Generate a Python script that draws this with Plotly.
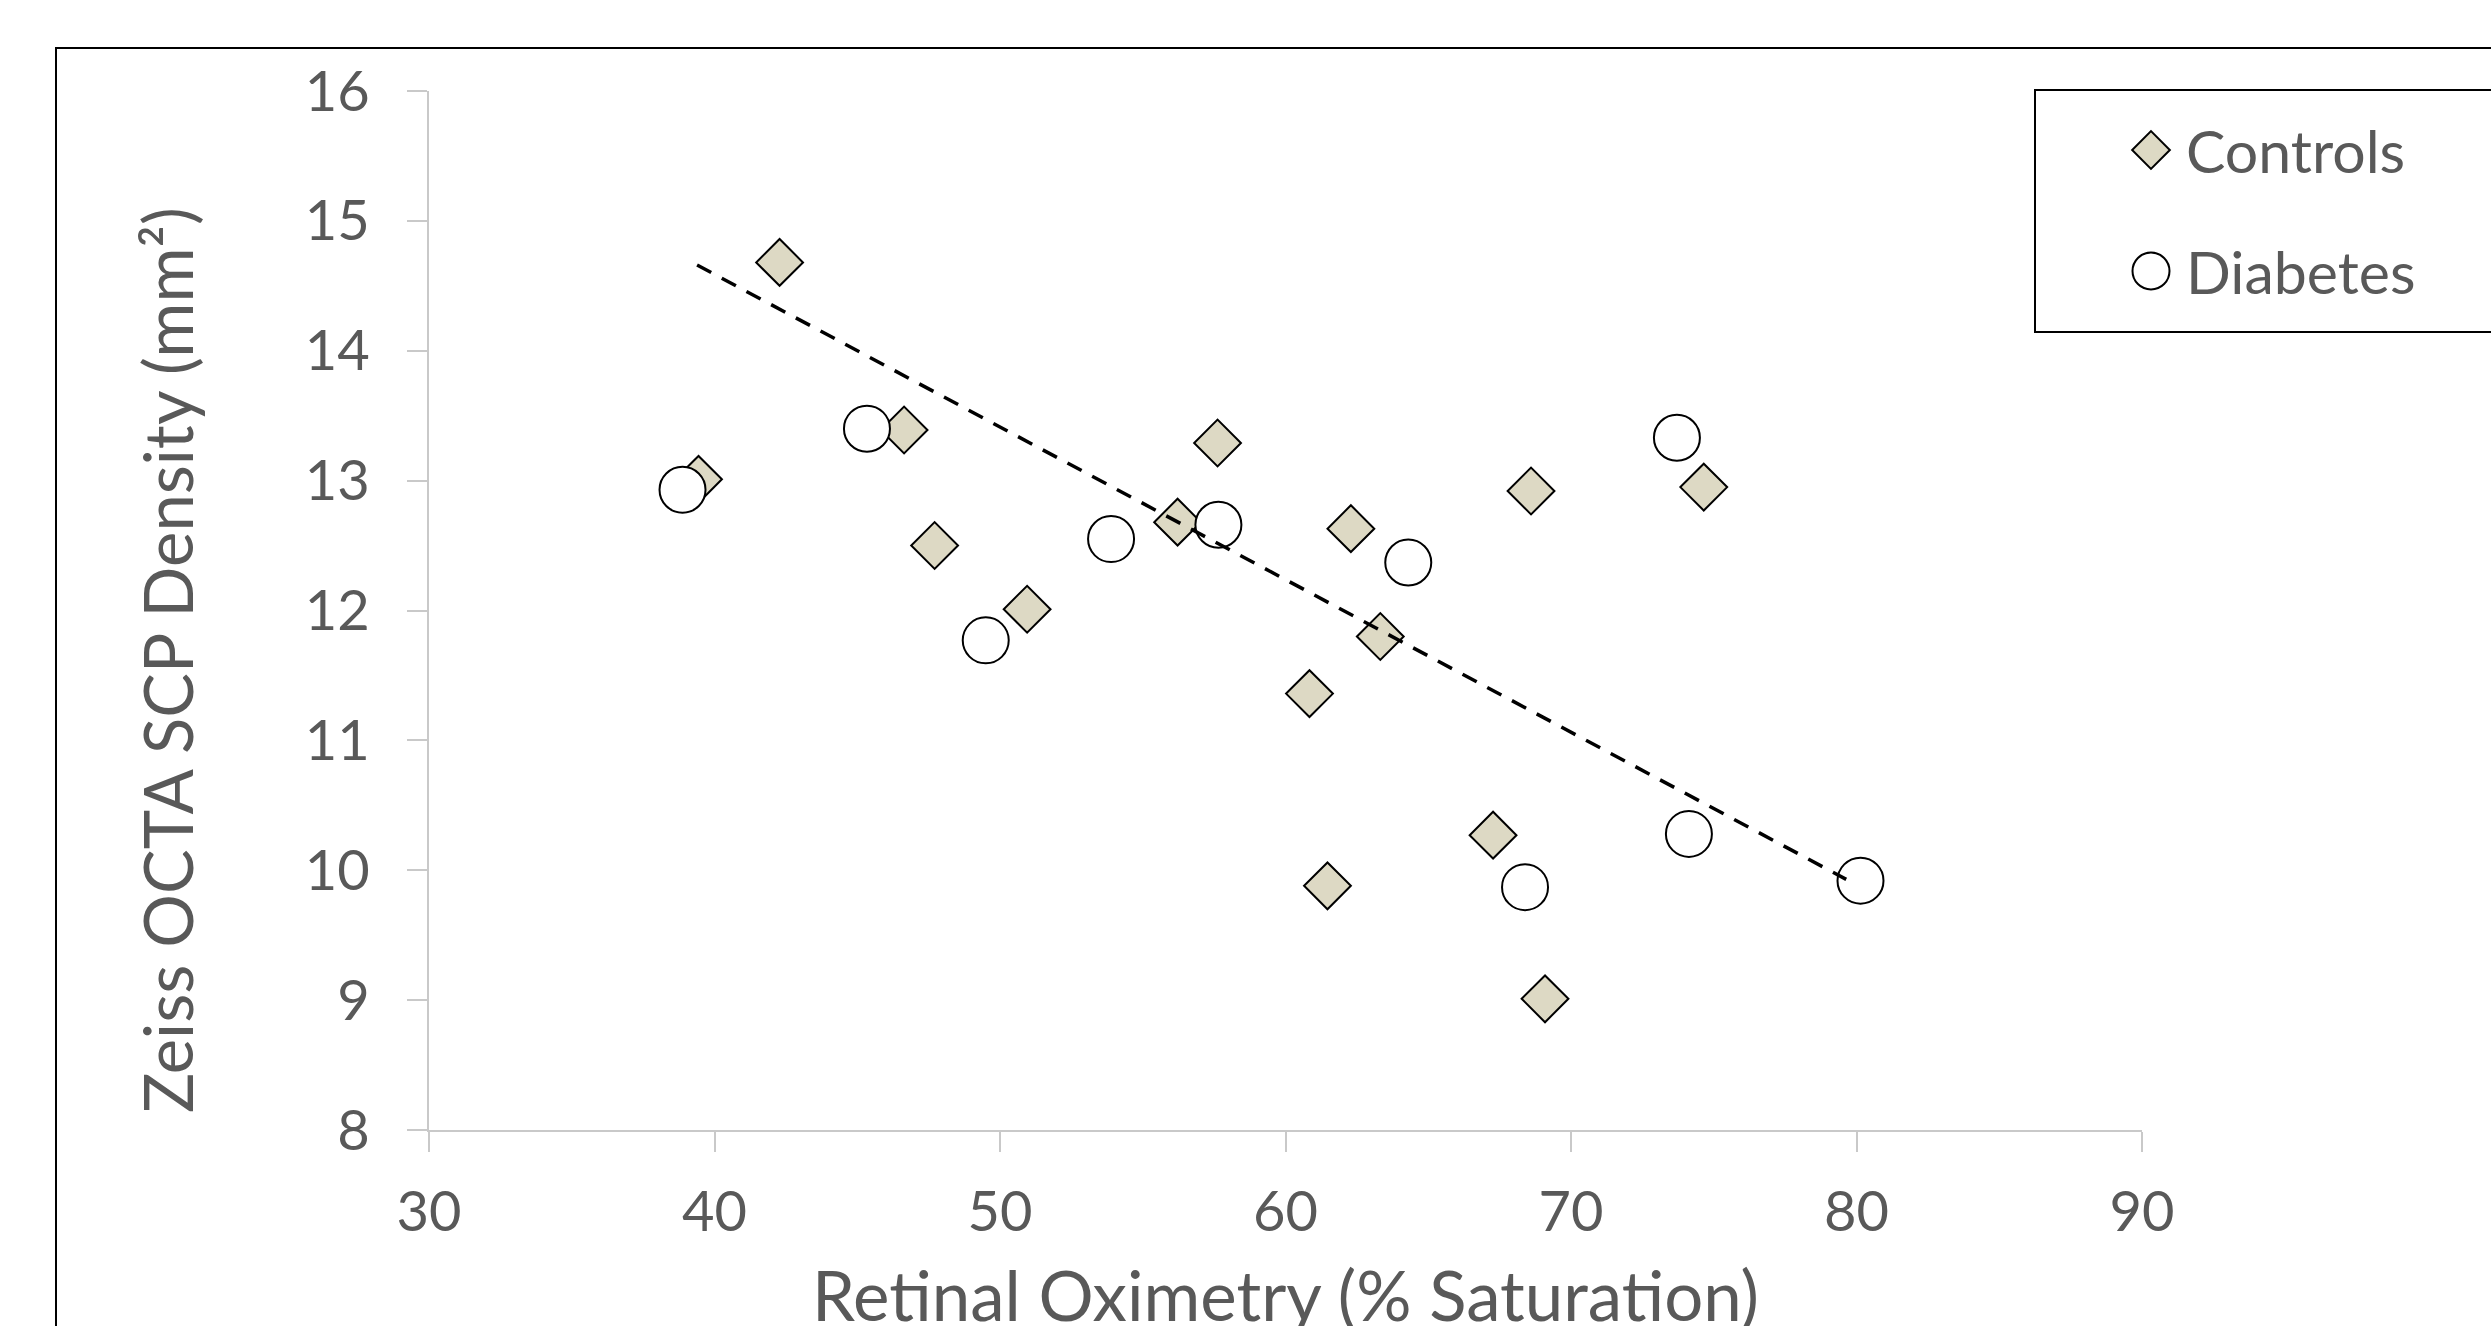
import plotly.graph_objects as go

# ---------------- data ----------------
controls_x = [39.44, 42.28, 46.64, 47.71, 50.95, 56.22, 57.62, 60.84, 61.47, 62.29, 63.32, 67.27, 68.60, 69.09, 74.65]
controls_y = [13.01, 14.68, 13.39, 12.50, 12.01, 12.68, 13.29, 11.36, 9.88, 12.63, 11.80, 10.27, 12.92, 9.01, 12.95]

diabetes_x = [38.88, 45.34, 49.50, 53.89, 57.65, 64.30, 68.39, 73.71, 74.13, 80.14]
diabetes_y = [12.93, 13.40, 11.77, 12.55, 12.66, 12.37, 9.87, 13.33, 10.28, 9.92]

trend_x = [39.39, 79.64]
trend_y = [14.66, 9.93]

x_ticks = [30, 40, 50, 60, 70, 80, 90]
y_ticks = [8, 9, 10, 11, 12, 13, 14, 15, 16]

series_names = ["Controls", "Diabetes"]
x_title = "Retinal Oximetry (% Saturation)"
y_title = "Zeiss OCTA SCP Density (mm²)"

# ---------------- styling / geometry ----------------
W, H = 2491, 1326
PL, PR, PT, PB = 429, 2142, 91, 1130   # plot area in pixels
FONT = "Lato"
TXT = "#595959"
AXC = "#c9c9c9"
TAN = "#ddd9c4"

fig = go.Figure()

fig.add_trace(go.Scatter(
    x=controls_x, y=controls_y, mode="markers", name=series_names[0],
    marker=dict(symbol="diamond", size=36, color=TAN, line=dict(color="black", width=2)),
    showlegend=False, cliponaxis=False))
fig.add_trace(go.Scatter(
    x=diabetes_x, y=diabetes_y, mode="markers", name=series_names[1],
    marker=dict(symbol="circle", size=46, color="white", line=dict(color="black", width=2)),
    showlegend=False, cliponaxis=False))
fig.add_trace(go.Scatter(
    x=trend_x, y=trend_y, mode="lines", name="Trend",
    line=dict(color="black", width=3.5, dash="16px,12px"),
    showlegend=False))

# custom legend markers on a pixel-coordinate overlay axis
LEG_MX = 2151
LEG_Y = [150, 271]
fig.add_trace(go.Scatter(
    x=[LEG_MX], y=[LEG_Y[0]], xaxis="x2", yaxis="y2", mode="markers",
    marker=dict(symbol="diamond", size=29, color=TAN, line=dict(color="black", width=2)),
    showlegend=False, hoverinfo="skip"))
fig.add_trace(go.Scatter(
    x=[LEG_MX], y=[LEG_Y[1]], xaxis="x2", yaxis="y2", mode="markers",
    marker=dict(symbol="circle", size=37, color="white", line=dict(color="black", width=2)),
    showlegend=False, hoverinfo="skip"))

axis_common = dict(
    showgrid=False, zeroline=False, showline=True, linecolor=AXC, linewidth=2,
    ticks="outside", ticklen=20, tickwidth=2, tickcolor=AXC, automargin=False,
    tickfont=dict(family=FONT, size=56, color=TXT),
)

fig.update_layout(
    template="none",
    width=W, height=H, autosize=False,
    margin=dict(l=0, r=0, t=0, b=0, pad=0, autoexpand=False),
    paper_bgcolor="white", plot_bgcolor="rgba(0,0,0,0)",
    font=dict(family=FONT, color=TXT),
    xaxis=dict(domain=[PL / W, PR / W], range=[30, 90], tickvals=x_ticks,
               ticklabelstandoff=12, **axis_common),
    yaxis=dict(domain=[(H - PB) / H, (H - PT) / H], range=[8, 16], tickvals=y_ticks,
               ticklabelstandoff=26, **axis_common),
    xaxis2=dict(domain=[0, 1], range=[0, W], visible=False, anchor="y2", fixedrange=True, automargin=False),
    yaxis2=dict(domain=[0, 1], range=[H, 0], visible=False, anchor="x2", fixedrange=True, automargin=False),
    showlegend=False,
)

# outer chart border and legend box
fig.add_shape(type="rect", xref="x2", yref="y2", x0=56, y0=48, x1=W + 200, y1=H + 200,
              line=dict(color="black", width=2), fillcolor="rgba(0,0,0,0)", layer="below")
fig.add_shape(type="rect", xref="x2", yref="y2", x0=2035, y0=90, x1=W + 200, y1=332,
              line=dict(color="black", width=2), fillcolor="rgba(0,0,0,0)", layer="below")

# legend texts
for name, yy in zip(series_names, LEG_Y):
    fig.add_annotation(xref="x2", yref="y2", x=2184, y=yy, text=name, showarrow=False,
                       xanchor="left", yanchor="middle",
                       font=dict(family=FONT, size=59, color=TXT))

# axis titles
fig.add_annotation(xref="x2", yref="y2", x=(PL + PR) / 2, y=1294, text=x_title, showarrow=False,
                   xanchor="center", yanchor="middle", font=dict(family=FONT, size=69, color=TXT))
fig.add_annotation(xref="x2", yref="y2", x=167, y=660, text=y_title, showarrow=False, textangle=-90,
                   xanchor="center", yanchor="middle", font=dict(family=FONT, size=67, color=TXT))

fig.write_html("out.html", config={"displayModeBar": False},
               post_script="document.body.style.margin='0';document.body.style.overflow='hidden';")
